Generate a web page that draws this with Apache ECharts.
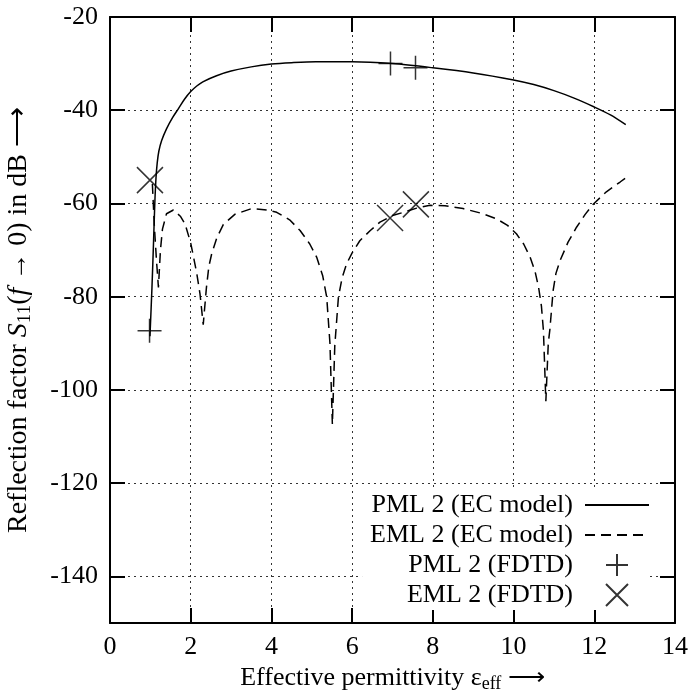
<!DOCTYPE html>
<html>
<head>
<meta charset="utf-8">
<script src="https://cdn.jsdelivr.net/npm/echarts@6/dist/echarts.min.js"></script>
<style>
  html, body { margin: 0; padding: 0; background: #fff; }
  #chart { width: 693px; height: 693px; }
</style>
</head>
<body>
<div id="chart"></div>
<script>
// tick values
const xTicks = [0, 2, 4, 6, 8, 10, 12, 14];
const yTicks = [-20, -40, -60, -80, -100, -120, -140];

// PML 2 (EC model), solid line  [eps_eff, dB]
const pmlModel = [
  [0.99, -88.5], [1.04, -78], [1.08, -68], [1.11, -60], [1.14, -54.5], [1.17, -51.3],
  [1.21, -48.8], [1.28, -46.5], [1.4, -44.0], [1.55, -41.6], [1.7, -39.6], [1.85, -37.6],
  [2.0, -36.0], [2.15, -34.8], [2.3, -33.9], [2.64, -32.6], [3.0, -31.6], [3.5, -30.7],
  [4.0, -30.1], [4.5, -29.8], [5.1, -29.6], [6.0, -29.6], [7.0, -30.0], [8.0, -30.9],
  [9.0, -32.0], [10.0, -33.5], [10.5, -34.5], [11.0, -35.8], [11.5, -37.4], [12.0, -39.3],
  [12.4, -41.0], [12.78, -43.1]
];

// EML 2 (EC model), dashed line
const emlModel = [
  [1.05, -55.8], [1.1, -65], [1.15, -72], [1.2, -78], [1.25, -70], [1.3, -65.5],
  [1.4, -62.2], [1.57, -61.4], [1.75, -62.8], [1.86, -64.4], [2.0, -68.5], [2.07, -71.5],
  [2.15, -75], [2.23, -79.4], [2.31, -86], [2.39, -78], [2.45, -73.5], [2.52, -70.8],
  [2.65, -67.3], [2.81, -64.5], [3.1, -62.3], [3.51, -61.1], [3.9, -61.4], [4.13, -61.9],
  [4.45, -63.5], [4.71, -65.8], [4.95, -68.7], [5.12, -71.5], [5.27, -75.5], [5.37, -80.1],
  [5.45, -90], [5.51, -107.4], [5.57, -90.5], [5.66, -80.1], [5.75, -76], [5.86, -73],
  [6.0, -70.6], [6.19, -68], [6.45, -65.8], [6.69, -64], [7.0, -62.6], [7.27, -61.9],
  [7.6, -61], [7.93, -60.4], [8.3, -60.5], [8.75, -61.1], [9.2, -62.1], [9.58, -63.3],
  [9.85, -64.7], [10.07, -66.5], [10.25, -68.7], [10.41, -71.5], [10.53, -74.5], [10.62, -78],
  [10.69, -82], [10.74, -87.3], [10.8, -102.4], [10.86, -90], [10.9, -87], [10.98, -78.7],
  [11.05, -75], [11.15, -72.3], [11.35, -68.3], [11.56, -65.1], [11.77, -62.4], [11.98, -60.1],
  [12.3, -57.5], [12.64, -55.4], [12.78, -54.5]
];

// FDTD points
const pmlFdtd = [[0.98, -87.3], [6.95, -30.0], [7.57, -30.9]];
const emlFdtd = [[0.99, -55.0], [6.94, -63.1], [7.58, -60.2]];

const FONT = "'Liberation Serif', 'Times New Roman', serif";
const PLUS = "path://M10,0 L10,20 M0,10 L20,10";
const CROSS = "path://M0,0 L20,20 M20,0 L0,20";

const chart = echarts.init(document.getElementById("chart"), null, { renderer: "canvas" });

const frameLine = { show: true, onZero: false, lineStyle: { color: "#000", width: 2 } };
const tick = { show: true, inside: true, length: 15, lineStyle: { color: "#000", width: 2 } };
const gridLine = { show: true, lineStyle: { color: "#333", width: 1, type: [2, 4] } };

let option = {
  animation: false,
  backgroundColor: "#fff",
  grid: { left: 110, right: 18, top: 17, bottom: 70, containLabel: false, outerBoundsMode: "none" },
  xAxis: [
    {
      type: "value",
      min: 0,
      max: 14,
      interval: 2,
      position: "bottom",
      axisLine: frameLine,
      axisTick: tick,
      axisLabel: { color: "#000", fontFamily: FONT, fontSize: 26, margin: 11 },
      splitLine: gridLine,
      name: "Effective permittivity {eps|ε}{sub|eff} ⟶",
      nameLocation: "middle",
      nameGap: 39,
      nameTextStyle: {
        color: "#000", fontFamily: FONT, fontSize: 26,
        rich: {
          eps: { fontFamily: FONT, fontSize: 26, color: "#000" },
          sub: { fontFamily: FONT, fontSize: 18, color: "#000", padding: [12, 0, 0, 0] }
        }
      }
    },
    {
      type: "value",
      min: 0,
      max: 14,
      interval: 2,
      position: "top",
      axisLine: frameLine,
      axisTick: tick,
      axisLabel: { show: false },
      splitLine: { show: false }
    }
  ],
  yAxis: [
    {
      type: "value",
      min: -150,
      max: -20,
      interval: 10,
      position: "left",
      axisLine: frameLine,
      axisTick: Object.assign({ customValues: yTicks }, tick),
      axisLabel: { customValues: yTicks, color: "#000", fontFamily: FONT, fontSize: 26, margin: 12 },
      splitLine: gridLine,
      name: "Reflection factor {it|S}{sub|11}({it|f} → 0) in dB ⟶",
      nameLocation: "middle",
      nameGap: 75,
      nameTextStyle: {
        color: "#000", fontFamily: FONT, fontSize: 28,
        rich: {
          it: { fontFamily: FONT, fontSize: 28, fontStyle: "italic", color: "#000" },
          sub: { fontFamily: FONT, fontSize: 19, color: "#000", padding: [13, 0, 0, 0] }
        }
      }
    },
    {
      type: "value",
      min: -150,
      max: -20,
      interval: 10,
      position: "right",
      axisLine: frameLine,
      axisTick: Object.assign({ customValues: yTicks }, tick),
      axisLabel: { show: false },
      splitLine: { show: false }
    }
  ],
  legend: {
    orient: "vertical",
    align: "right",
    right: 43,
    top: 490,
    itemWidth: 64,
    itemHeight: 22,
    itemGap: 4,
    padding: [2, 0, 2, 8],
    backgroundColor: "#fff",
    textStyle: { color: "#000", fontFamily: FONT, fontSize: 26, lineHeight: 26, padding: [0, 7, 0, 0] },
    data: [
      { name: "PML 2 (EC model)", itemStyle: { opacity: 0 } },
      { name: "EML 2 (EC model)", itemStyle: { opacity: 0 } },
      "PML 2 (FDTD)",
      "EML 2 (FDTD)"
    ]
  },
  series: [
    {
      name: "PML 2 (EC model)",
      type: "line",
      data: pmlModel,
      showSymbol: false,
      symbol: "none",
      smooth: 0.3,
      itemStyle: { color: "#000" },
      lineStyle: { color: "#000", width: 1.5, type: "solid" }
    },
    {
      name: "EML 2 (EC model)",
      type: "line",
      data: emlModel,
      showSymbol: false,
      symbol: "none",
      itemStyle: { color: "#000" },
      lineStyle: { color: "#000", width: 1.5, type: [10, 6] }
    },
    {
      name: "PML 2 (FDTD)",
      type: "scatter",
      data: pmlFdtd,
      symbol: PLUS,
      symbolSize: 24,
      itemStyle: { color: "rgba(0,0,0,0)", borderColor: "#000", borderWidth: 1.5 }
    },
    {
      name: "EML 2 (FDTD)",
      type: "scatter",
      data: emlFdtd,
      symbol: CROSS,
      symbolSize: 26,
      itemStyle: { color: "rgba(0,0,0,0)", borderColor: "#000", borderWidth: 1.5 }
    }
  ]
};

chart.setOption(option);
</script>
</body>
</html>
